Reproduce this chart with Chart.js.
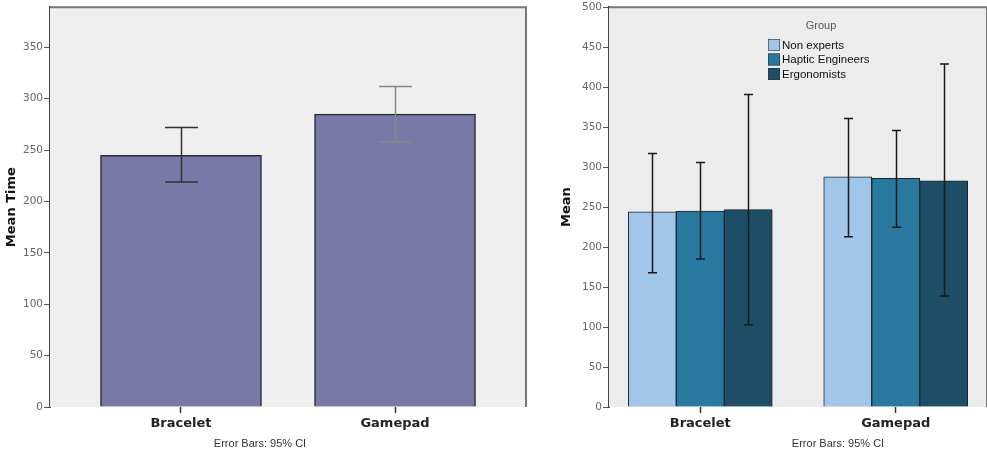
<!DOCTYPE html>
<html>
<head>
<meta charset="utf-8">
<script src="https://cdn.jsdelivr.net/npm/chart.js@4/dist/chart.umd.min.js"></script>
<style>
  html, body { margin: 0; padding: 0; background: #ffffff; }
  body { width: 987px; height: 454px; position: relative; overflow: hidden; }
  #left { position: absolute; left: 0; top: 0; }
  #right { position: absolute; left: 535px; top: 0; }
</style>
</head>
<body>
<canvas id="left" width="535" height="454"></canvas>
<canvas id="right" width="452" height="454"></canvas>
<script>
// ---------- data ----------
const categories = ['Bracelet', 'Gamepad'];

// left chart: mean time per device, with 95% CI
const meanTime = [245, 285];
const meanTimeCILow = [219, 258];
const meanTimeCIHigh = [272, 312];
const leftYTicks = [0, 50, 100, 150, 200, 250, 300, 350];

// right chart: mean per device by group, with 95% CI
const groups = ['Non experts', 'Haptic Engineers', 'Ergonomists'];
const nonExperts = [244, 288];
const nonExpertsCILow = [168, 213];
const nonExpertsCIHigh = [317, 361];
const hapticEngineers = [245, 286];
const hapticEngineersCILow = [185, 225];
const hapticEngineersCIHigh = [306, 346];
const ergonomists = [247, 283];
const ergonomistsCILow = [103, 139];
const ergonomistsCIHigh = [391, 429];
const rightYTicks = [0, 50, 100, 150, 200, 250, 300, 350, 400, 450, 500];

const footnote = 'Error Bars: 95% CI';

// ---------- plugins ----------
const frame = {
  id: 'frame',
  beforeDatasetsDraw(chart, args, o) {
    const {ctx, chartArea: a} = chart;
    ctx.save();
    ctx.fillStyle = o.bg;
    ctx.fillRect(a.left, a.top, a.right - a.left, a.bottom - a.top);
    ctx.strokeStyle = o.edge;
    ctx.lineWidth = 2;
    ctx.beginPath();
    ctx.moveTo(a.left, a.top);
    ctx.lineTo(a.right, a.top);
    ctx.lineTo(a.right, a.bottom);
    ctx.stroke();
    ctx.restore();
  }
};

const errorBars = {
  id: 'errorBars',
  afterDatasetsDraw(chart, args, o) {
    const {ctx} = chart;
    const y = chart.scales.y;
    chart.data.datasets.forEach((ds, di) => {
      const meta = chart.getDatasetMeta(di);
      meta.data.forEach((el, i) => {
        const lo = y.getPixelForValue(ds.ciLow[i]);
        const hi = y.getPixelForValue(ds.ciHigh[i]);
        const x = Math.round(el.x) + 0.5;
        const w = o.cap / 2;
        ctx.save();
        ctx.strokeStyle = Array.isArray(ds.errColor) ? ds.errColor[i] : ds.errColor;
        ctx.lineWidth = o.width;
        ctx.beginPath();
        ctx.moveTo(x, lo); ctx.lineTo(x, hi);
        ctx.moveTo(x - w, hi); ctx.lineTo(x + w, hi);
        ctx.moveTo(x - w, lo); ctx.lineTo(x + w, lo);
        ctx.stroke();
        ctx.restore();
      });
    });
  }
};

const note = {
  id: 'note',
  afterDraw(chart, args, o) {
    const {ctx} = chart;
    ctx.save();
    ctx.font = '11px "Liberation Sans", Arial, sans-serif';
    ctx.fillStyle = '#333';
    ctx.textAlign = 'center';
    ctx.textBaseline = 'middle';
    ctx.fillText(o.text, o.x, o.y);
    ctx.restore();
  }
};

const groupLegend = {
  id: 'groupLegend',
  afterDraw(chart, args, o) {
    if (!o.show) return;
    const {ctx} = chart;
    ctx.save();
    ctx.font = '11px "Liberation Sans", Arial, sans-serif';
    ctx.fillStyle = '#555';
    ctx.textAlign = 'center';
    ctx.textBaseline = 'middle';
    ctx.fillText(o.title, o.titleX, o.titleY);
    ctx.textAlign = 'left';
    ctx.font = '11.5px "Liberation Sans", Arial, sans-serif';
    chart.data.datasets.forEach((ds, i) => {
      const cy = o.y0 + i * o.step;
      ctx.fillStyle = ds.backgroundColor;
      ctx.fillRect(o.x, cy - 6, 12, 12);
      ctx.strokeStyle = '#333';
      ctx.lineWidth = 0.6;
      ctx.strokeRect(o.x + 0.3, cy - 5.7, 11.4, 11.4);
      ctx.fillStyle = '#111';
      ctx.fillText(ds.label, o.x + 14, cy + 0.5);
    });
    ctx.restore();
  }
};

Chart.register(frame, errorBars, note, groupLegend);

const tickFont = {family: '"DejaVu Sans", sans-serif', size: 10.5};
const catFont = {family: '"DejaVu Sans", sans-serif', size: 13, weight: 'bold'};

function xScale(min, max) {
  return {
    type: 'linear',
    min: min, max: max,
    offset: false,
    afterBuildTicks: s => { s.ticks = categories.map((c, i) => ({value: i})); },
    afterFit: s => { s.height = 47; },
    ticks: {
      callback: v => categories[v],
      font: catFont, color: '#222', padding: 3, maxRotation: 0, autoSkip: false
    },
    grid: {display: true, offset: false, drawOnChartArea: false, tickLength: 6, tickColor: '#333', tickWidth: 1.5},
    border: {display: false}
  };
}

function yScale(max, tickList, width, title, titlePad) {
  return {
    type: 'linear',
    min: 0, max: max,
    afterBuildTicks: s => { s.ticks = tickList.map(v => ({value: v})); },
    afterFit: s => { s.width = width; },
    ticks: {font: tickFont, color: '#666', padding: 1},
    grid: {display: true, drawOnChartArea: false, tickLength: 6, tickColor: '#555', tickWidth: 1},
    border: {display: true, color: '#444', width: 2},
    title: {
      display: true, text: title, color: '#111',
      font: {family: '"DejaVu Sans", sans-serif', size: 13, weight: 'bold'},
      padding: {top: titlePad, bottom: 0}
    }
  };
}

// ---------- left chart ----------
new Chart(document.getElementById('left'), {
  type: 'bar',
  data: {
    datasets: [{
      label: 'Mean Time',
      data: meanTime.map((v, i) => ({x: i, y: v})),
      ciLow: meanTimeCILow,
      ciHigh: meanTimeCIHigh,
      errColor: ['#333333', '#888888'],
      backgroundColor: '#7979a7',
      borderColor: '#2a2a35',
      borderWidth: {left: 1.5, right: 1.5, top: 1.5, bottom: 0},
      borderSkipped: 'bottom',
      barThickness: 161
    }]
  },
  options: {
    responsive: false,
    animation: false,
    layout: {padding: {left: 0, top: 7, right: 9, bottom: 0}},
    scales: {
      x: xScale(-0.612, 1.612),
      y: yScale(389, leftYTicks, 50, 'Mean Time', 4)
    },
    plugins: {
      legend: {display: false},
      tooltip: {enabled: false},
      frame: {bg: '#efefef', edge: '#777'},
      errorBars: {cap: 33, width: 1.5},
      note: {text: footnote, x: 260, y: 444},
      groupLegend: {show: false}
    }
  }
});

// ---------- right chart ----------
const dsStyle = (label, data, lo, hi, color) => ({
  label: label,
  data: data.map((v, i) => ({x: i, y: v})),
  ciLow: lo, ciHigh: hi,
  errColor: '#1a1a1a',
  backgroundColor: color,
  borderColor: '#1a2530',
  borderWidth: {left: 1, right: 1, top: 1, bottom: 0},
  borderSkipped: 'bottom',
  barThickness: 48
});

new Chart(document.getElementById('right'), {
  type: 'bar',
  data: {
    datasets: [
      dsStyle(groups[0], nonExperts, nonExpertsCILow, nonExpertsCIHigh, '#a2c5ea'),
      dsStyle(groups[1], hapticEngineers, hapticEngineersCILow, hapticEngineersCIHigh, '#2878a0'),
      dsStyle(groups[2], ergonomists, ergonomistsCILow, ergonomistsCIHigh, '#1e4d66')
    ]
  },
  options: {
    responsive: false,
    animation: false,
    layout: {padding: {left: 0, top: 6, right: 0, bottom: 0}},
    scales: {
      x: xScale(-0.467, 1.467),
      y: yScale(500, rightYTicks, 74, 'Mean', 24)
    },
    plugins: {
      legend: {display: false},
      tooltip: {enabled: false},
      frame: {bg: '#ececec', edge: '#777'},
      errorBars: {cap: 9, width: 1.5},
      note: {text: footnote, x: 303, y: 444},
      groupLegend: {show: true, title: 'Group', titleX: 286, titleY: 26, x: 233, y0: 45, step: 14.5}
    }
  }
});
</script>
</body>
</html>
